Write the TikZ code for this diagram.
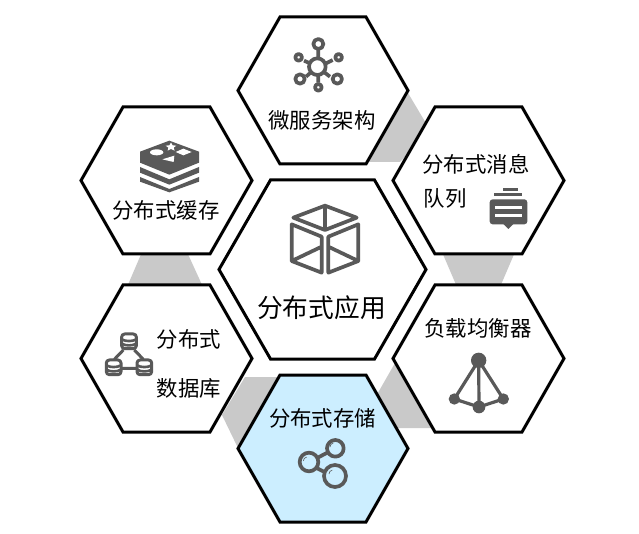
\documentclass[tikz,border=0pt]{standalone}
\usepackage{fontspec}
\newfontfamily\cjk{Noto Sans CJK SC}
\definecolor{icon}{HTML}{595959}
\definecolor{band}{HTML}{C9C9C9}
\definecolor{sel}{HTML}{CCEEFF}
\usetikzlibrary{calc}
\newcommand{\hexa}[7]{% name,x,y,half width,inner half width,half height,fill
  \coordinate (#1) at (#2,#3);
  \draw[hexline,fill=#7] ($(#1)+(-#4,0)$) -- ($(#1)+(-#5,-#6)$) -- ($(#1)+(#5,-#6)$) -- ($(#1)+(#4,0)$) -- ($(#1)+(#5,#6)$) -- ($(#1)+(-#5,#6)$) -- cycle;}
\tikzset{
  hexline/.style={draw=black,line width=3pt,line join=miter},
  lab/.style={font=\cjk\fontsize{21.4}{21.4}\selectfont,inner sep=0pt,text=black},
  biglab/.style={font=\cjk\fontsize{25.7}{25.7}\selectfont,inner sep=0pt,text=black},
  ic/.style={draw=icon,line width=3.7pt,line join=round},
  icf/.style={fill=icon,draw=none},
  band/.style={fill=band,draw=none},
  inv/.style={fill=white,draw=none},
}
\begin{document}
\begin{tikzpicture}[x=1pt,y=-1pt]
\useasboundingbox (0,0) rectangle (639,534);
\fill[white] (0,0) rectangle (639,534);
% grey bands
\fill[band] (405,88) -- (430,130) -- (400,162) -- (366,162) -- cycle;
\fill[band] (142,252) -- (187,252) -- (203,287) -- (127,287) -- cycle;
\fill[band] (442,252) -- (515,252) -- (500,287) -- (457,287) -- cycle;
\fill[band] (222,415) -- (245,377) -- (285,377) -- (238,448) -- cycle;
\fill[band] (375,398) -- (395,363) -- (432,428) -- (397,428) -- cycle;
% hexagons
\hexa{top}{323}{90.5}{85}{43}{73.5}{white}
\hexa{ul}{166.5}{180.5}{85.5}{43.5}{73.5}{white}
\hexa{ur}{478.5}{180.5}{85.5}{43.5}{73.5}{white}
\hexa{ll}{166.5}{358.5}{85.5}{43.5}{73.5}{white}
\hexa{lr}{478.5}{358.5}{85.5}{43.5}{73.5}{white}
\hexa{mid}{322.5}{269.5}{103.5}{52}{89.5}{white}
\hexa{bot}{323}{448.5}{85}{43}{73.5}{sel}
% labels
\node[lab] (t1) at (322,120.5) {微服务架构};
\node[lab] (t2) at (166,210.5) {分布式缓存};
\node[lab] (t3) at (189,339.5) {分布式};
\node[lab] (t4) at (189,388.5) {数据库};
\node[lab] (t5) at (476,164.5) {分布式消息};
\node[lab,anchor=west] (t6) at (423.5,198.5) {队列};
\node[lab] (t7) at (478,328.5) {负载均衡器};
\node[biglab] (t8) at (321.5,307.5) {分布式应用};
\node[lab] (t9) at (322.5,418.5) {分布式存储};
% icon: microservices
\begin{scope}[shift={(230,10)},scale=1/3]
\draw[ic] (265,118) -- (265,143) (222,152) -- (240,160) (308,150) -- (288,160)
 (228,200) -- (243,187) (300,200) -- (283,187) (265,195) -- (265,218);
\draw[ic] (262,170) circle (25);
\draw[ic] (265,102) circle (15);
\draw[ic] (206,142) circle (10);
\draw[ic] (326,142) circle (10);
\draw[ic] (210,207) circle (14);
\draw[ic] (322,207) circle (14);
\draw[ic] (265,232) circle (10);
\end{scope}
% icon: redis
\begin{scope}[shift={(75,100)},scale=1/3]
\fill[icf] (283,122) -- (372,155) -- (372,188) -- (283,224) -- (195,188) -- (195,155) -- cycle;
\fill[icf] (195,201) -- (283,238) -- (372,201) -- (372,218) -- (283,254) -- (195,218) -- cycle;
\fill[icf] (195,231) -- (283,267) -- (372,231) -- (372,245) -- (283,277) -- (195,245) -- cycle;
\fill[inv] (245,157) ellipse (20 and 9);
\fill[inv] (288,128) -- (293,136) -- (304,137) -- (296,143) -- (299,152) -- (288,147) -- (278,152) -- (280,143) -- (272,137) -- (283,136) -- cycle;
\fill[inv] (325,146) -- (350,156) -- (325,166) -- (302,156) -- cycle;
\fill[inv] (262,178) -- (298,167) -- (296,186) -- cycle;
\end{scope}
% icon: database
\begin{scope}[shift={(75,280)},scale=1/3]
\draw[ic,line width=3pt] (145,210) -- (118,238) (178,210) -- (205,238) (140,265) -- (186,265);
\foreach \cx/\cy in {162/184,116/262,208/262}{
  \draw[ic,line width=3pt,rounded corners=3pt] (\cx-22,\cy-22) rectangle (\cx+22,\cy+22);
  \draw[ic,line width=2.6pt] (\cx-22,\cy-6) .. controls (\cx-10,\cy+1) and (\cx+10,\cy+1) .. (\cx+22,\cy-6);
  \draw[ic,line width=2.6pt] (\cx-22,\cy+7) .. controls (\cx-10,\cy+14) and (\cx+10,\cy+14) .. (\cx+22,\cy+7);
}
\end{scope}
% icon: queue
\begin{scope}[shift={(385,100)},scale=1/3]
\draw[ic,line width=2.6pt] (355,268) -- (398,268);
\draw[ic,line width=3pt] (328,285) -- (412,285);
\fill[icf,rounded corners=3pt] (314,298) rectangle (427,373);
\fill[icf] (355,372) -- (385,372) -- (370,387) -- cycle;
\fill[inv] (330,319) rectangle (410,328);
\fill[inv] (330,342) rectangle (410,351);
\end{scope}
% icon: balancer
\begin{scope}[shift={(385,280)},scale=1/3]
\draw[ic,line width=3.2pt] (281,241) -- (208,357) -- (282,381) -- (355,357) -- cycle (281,241) -- (282,381);
\fill[icf] (281,241) circle (23);
\fill[icf] (208,357) circle (17);
\fill[icf] (355,357) circle (17);
\fill[icf] (282,381) circle (19);
\end{scope}
% icon: cube
\begin{scope}[shift={(215,175)},scale=1/3]
\draw[ic] (330,92) -- (425,128) -- (330,165) -- (235,128) -- cycle (330,92) -- (330,165);
\draw[ic] (230,148) -- (320,185) -- (320,293) -- (230,258) -- cycle (320,215) -- (230,258);
\draw[ic] (430,148) -- (340,185) -- (340,293) -- (430,258) -- cycle (340,215) -- (430,258);
\end{scope}
% icon: storage
\begin{scope}[shift={(230,365)},scale=1/3]
\draw[ic] (265,277) -- (292,263) (262,310) -- (285,322);
\draw[ic] (237,291) circle (28);
\draw[ic] (316,250) circle (25);
\draw[ic] (315,333) circle (33);
\draw[icon,line width=.6pt] (220,288) arc (180:260:12);
\draw[icon,line width=.6pt] (300,246) arc (180:260:12);
\draw[icon,line width=.6pt] (297,327) arc (180:260:12);
\end{scope}
\end{tikzpicture}
\end{document}
